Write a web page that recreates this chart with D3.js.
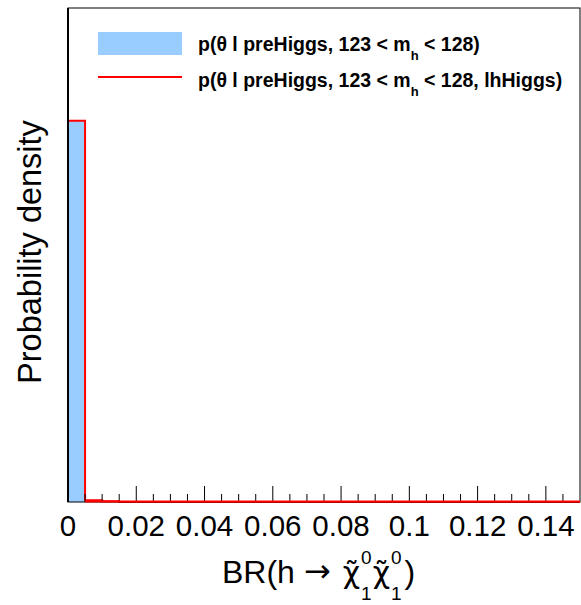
<!DOCTYPE html>
<html>
<head>
<meta charset="utf-8">
<script src="https://cdn.jsdelivr.net/npm/d3@7"></script>
<style>
  html, body { margin: 0; padding: 0; background: #fff; }
  svg { display: block; font-family: "Liberation Sans", Arial, Helvetica, sans-serif; }
</style>
</head>
<body>
<svg id="chart" width="581" height="605"></svg>
<script>
// ---- data ----
const binEdgesStart = 0;
const binWidth = 0.005;
const blueValues = [196, 0.9, 0.35, 0, 0, 0, 0, 0, 0, 0, 0, 0, 0, 0, 0, 0, 0, 0, 0, 0, 0, 0, 0, 0, 0, 0, 0, 0, 0, 0];
const redValues  = [196, 0.9, 0.35, 0, 0, 0, 0, 0, 0, 0, 0, 0, 0, 0, 0, 0, 0, 0, 0, 0, 0, 0, 0, 0, 0, 0, 0, 0, 0, 0];
const xTicks = [0, 0.02, 0.04, 0.06, 0.08, 0.1, 0.12, 0.14];
const xTickLabels = ["0", "0.02", "0.04", "0.06", "0.08", "0.1", "0.12", "0.14"];
const xDomain = [0, 0.15];
const yDomain = [0, 254];
const legendLabels = [
  {pre: "p(θ l preHiggs, 123 < m", sub: "h", post: " < 128)"},
  {pre: "p(θ l preHiggs, 123 < m", sub: "h", post: " < 128, lhHiggs)"}
];

// ---- layout ----
const L = 68, R = 580, T = 8, B = 502;
const svg = d3.select("#chart");
const x = d3.scaleLinear().domain(xDomain).range([L, R]);
const y = d3.scaleLinear().domain(yDomain).range([B, T]);

const bins = blueValues.map((v, i) => ({x0: binEdgesStart + i * binWidth, x1: binEdgesStart + (i + 1) * binWidth, v}));

// blue filled histogram
svg.append("g").selectAll("rect").data(bins).join("rect")
  .attr("x", d => x(d.x0))
  .attr("width", d => x(d.x1) - x(d.x0))
  .attr("y", d => y(d.v))
  .attr("height", d => y(0) - y(d.v))
  .attr("fill", "#99ccff");

// red step outline
const pts = [];
redValues.forEach((v, i) => {
  const x0 = binEdgesStart + i * binWidth, x1 = x0 + binWidth;
  pts.push([x0, v]); pts.push([x1, v]);
});
svg.append("path")
  .attr("d", d3.line().x(d => x(d[0])).y(d => y(d[1]))(pts))
  .attr("fill", "none").attr("stroke", "#ff0000").attr("stroke-width", 2);

// minor + major ticks
const minorTicks = d3.range(0, 0.15 + 1e-9, 0.005).filter(t => t > 0 && t < 0.15);
svg.append("g").selectAll("line").data(minorTicks).join("line")
  .attr("x1", d => x(d)).attr("x2", d => x(d))
  .attr("y1", B).attr("y2", d => (Math.abs(d / 0.02 - Math.round(d / 0.02)) < 1e-6) ? B - 16 : B - 8)
  .attr("stroke", "#000").attr("stroke-width", 1);

// frame
svg.append("rect").attr("x", L).attr("y", T).attr("width", R - L).attr("height", B - T)
  .attr("fill", "none").attr("stroke", "#000").attr("stroke-width", 1);
svg.append("line").attr("x1", L).attr("x2", L).attr("y1", T).attr("y2", B)
  .attr("stroke", "#000").attr("stroke-width", 2);

// redraw red bottom line over frame
svg.append("line").attr("x1", x(binWidth)).attr("x2", R).attr("y1", y(0) - 0.5).attr("y2", y(0) - 0.5)
  .attr("stroke", "#ff0000").attr("stroke-width", 2);

// tick labels
svg.append("g").selectAll("text").data(xTicks).join("text")
  .attr("x", d => x(d)).attr("y", 536)
  .attr("text-anchor", "middle").attr("font-size", 29.5)
  .text((d, i) => xTickLabels[i]);

// y-axis title
svg.append("text")
  .attr("transform", "translate(41,252) rotate(-90)")
  .attr("text-anchor", "middle").attr("font-size", 32.5)
  .text("Probability density");

// x-axis title  BR(h → χ̃₁⁰χ̃₁⁰)
const xt = svg.append("g");
const base = 583;
let cx = 222;
const t1 = xt.append("text").attr("x", cx).attr("y", base).attr("font-size", 32).text("BR(h");
cx += t1.node().getComputedTextLength() + 9;
const arr = xt.append("text").attr("x", cx).attr("y", base - 1).attr("font-size", 32)
  .attr("font-family", "DejaVu Sans").text("\u2192");
cx += arr.node().getComputedTextLength() + 12;
for (let k = 0; k < 2; k++) {
  const chi = xt.append("text").attr("x", cx).attr("y", base).attr("font-size", 30)
    .attr("font-family", "DejaVu Sans").text("\u03c7\u0303");
  const w = chi.node().getComputedTextLength();
  const sx = cx + w + 1;
  const sup = xt.append("text").attr("x", sx).attr("y", base - 19).attr("font-size", 19).text("0");
  xt.append("text").attr("x", sx).attr("y", base + 17).attr("font-size", 19).text("1");
  cx = sx + sup.node().getComputedTextLength() + 1;
}
xt.append("text").attr("x", cx + 2).attr("y", base).attr("font-size", 32).text(")");

// legend
const lg = svg.append("g");
lg.append("rect").attr("x", 98).attr("y", 32).attr("width", 84).attr("height", 23).attr("fill", "#99ccff");
lg.append("line").attr("x1", 98).attr("x2", 182).attr("y1", 77).attr("y2", 77)
  .attr("stroke", "#ff0000").attr("stroke-width", 2);
const baselines = [51, 87];
legendLabels.forEach((lab, i) => {
  const t = lg.append("text").attr("x", 198).attr("y", baselines[i])
    .attr("font-size", 19.5).attr("font-weight", "bold");
  t.append("tspan").text(lab.pre);
  t.append("tspan").attr("dy", 9).attr("font-size", 13).text(lab.sub);
  t.append("tspan").attr("dy", -9).text(lab.post);
});
</script>
</body>
</html>
